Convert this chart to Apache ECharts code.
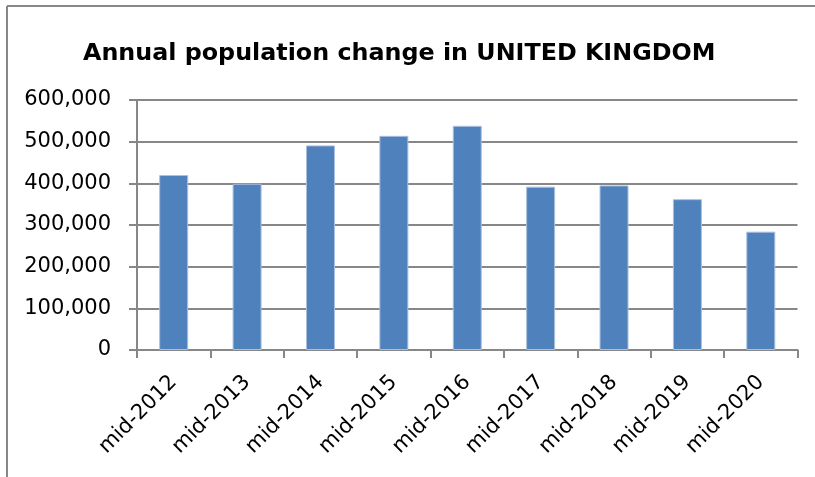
<!DOCTYPE html>
<html>
<head>
<meta charset="utf-8">
<script src="https://cdn.jsdelivr.net/npm/echarts@6/dist/echarts.min.js"></script>
<style>html,body{margin:0;padding:0;background:#fff}#c{width:815px;height:477px}</style>
</head>
<body>
<div id="c"></div>
<script>
const titleText = 'Annual population change in UNITED KINGDOM';
const categories = ['mid-2012','mid-2013','mid-2014','mid-2015','mid-2016','mid-2017','mid-2018','mid-2019','mid-2020'];
const populationChange = [420000, 399000, 491000, 514000, 538000, 392000, 395000, 362000, 284000];
const yTicks = [0, 100000, 200000, 300000, 400000, 500000, 600000];

const chart = echarts.init(document.getElementById('c'), null, {renderer: 'canvas'});
const gray = '#878787';
chart.setOption({
  animation: false,
  backgroundColor: '#fff',
  title: {
    text: titleText,
    left: 78, top: 37,
    textStyle: {fontFamily: 'DejaVu Sans', fontWeight: 'bold', fontSize: 23.8, color: '#000'}
  },
  graphic: [
    {type: 'line', shape: {x1: 7, y1: 6, x2: 7, y2: 477}, style: {stroke: gray, lineWidth: 2}},
    {type: 'line', shape: {x1: 7, y1: 6, x2: 815, y2: 6}, style: {stroke: gray, lineWidth: 2}}
  ],
  grid: {left: 137, right: 17.5, top: 100, bottom: 127, containLabel: false},
  xAxis: {
    type: 'category',
    data: categories,
    axisLine: {lineStyle: {color: gray, width: 2}},
    axisTick: {show: true, alignWithLabel: false, length: 8, lineStyle: {color: gray, width: 2}},
    axisLabel: {rotate: 45, fontFamily: 'DejaVu Sans', fontSize: 21, color: '#000', margin: 29, interval: 0}
  },
  yAxis: {
    type: 'value',
    min: yTicks[0], max: yTicks[yTicks.length - 1], interval: yTicks[1] - yTicks[0],
    axisLine: {show: true, lineStyle: {color: gray, width: 2}},
    axisTick: {show: true, length: 8, lineStyle: {color: gray, width: 2}},
    splitLine: {lineStyle: {color: gray, width: 2}},
    axisLabel: {fontFamily: 'DejaVu Sans', fontSize: 21, color: '#000', margin: 26,
      formatter: v => v.toLocaleString('en-US')}
  },
  series: [{
    type: 'bar',
    data: populationChange,
    barWidth: 29,
    itemStyle: {color: '#4F81BD', borderColor: '#A9C0DE', borderWidth: 1}
  }]
});
</script>
</body>
</html>
